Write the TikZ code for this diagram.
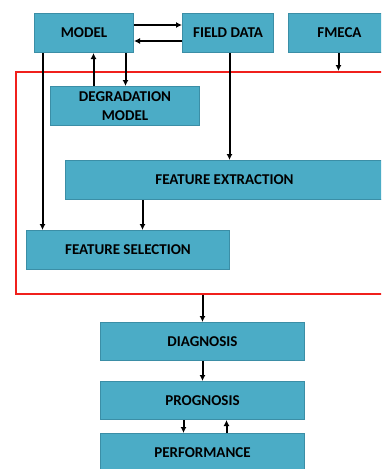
\documentclass[tikz,border=0pt]{standalone}
\usepackage{fontspec}
\setmainfont{Carlito}
\usetikzlibrary{arrows.meta}
\definecolor{boxfill}{HTML}{4BACC6}
\definecolor{boxline}{HTML}{3B8EA6}
\definecolor{framered}{HTML}{F0201C}

\begin{document}
\begin{tikzpicture}[x=1pt,y=-1pt,
            box/.style={draw=boxline,fill=boxfill,line width=1pt,
                font=\fontsize{15}{18.5}\selectfont\bfseries,align=center,
                inner sep=0pt,minimum height=39pt},
            flow/.style={-{Latex[length=6pt,width=6pt]},line width=2pt},
            ]
            \clip (0,0) rectangle (381,469);
            \fill[white] (0,0) rectangle (381,469);

            % outer frame
            \node[draw=framered,line width=1.8pt,minimum width=380pt,minimum height=222pt,
                inner sep=0pt,anchor=north west] (block) at (15,71) {};

            \node[box,minimum width=99pt,anchor=north west] (model) at (34,13) {MODEL};
            \node[box,minimum width=91pt,anchor=north west] (field) at (182,13) {FIELD DATA};
            \node[box,minimum width=102pt,anchor=north west] (fmeca) at (288,13) {FMECA};
            \node[box,minimum width=149pt,anchor=north west] (degr) at (50,86) {DEGRADATION\\MODEL};
            \node[box,minimum width=318pt,anchor=north west] (fext) at (65,160) {FEATURE EXTRACTION};
            \node[box,minimum width=203pt,anchor=north west] (fsel) at (26,230) {FEATURE SELECTION};
            \node[box,minimum width=204pt,minimum height=38pt,anchor=north west] (diag) at (100,322) {DIAGNOSIS};
            \node[box,minimum width=204pt,minimum height=38pt,anchor=north west] (prog) at (100,381) {PROGNOSIS};
            \node[box,minimum width=204pt,minimum height=38pt,anchor=north west] (perf) at (100,433) {PERFORMANCE};

            % model <-> field data
            \draw[flow] ([yshift=8pt]model.east) -- ([yshift=8pt]model.east -| field.west);
            \draw[flow] ([yshift=-8pt]field.west) -- ([yshift=-8pt]field.west -| model.east);
            % model <-> degradation
            \draw[flow] ([xshift=9.5pt]model.south |- degr.north) -- ([xshift=9.5pt]model.south);
            \draw[flow] ([xshift=41.5pt]model.south) -- ([xshift=41.5pt]model.south |- degr.north);
            \draw[flow] ([xshift=-41.5pt]model.south) -- ([xshift=-41.5pt]model.south |- fsel.north);
            % features
            \draw[flow] ([xshift=1.5pt]field.south) -- ([xshift=1.5pt]field.south |- fext.north);
            \draw[flow] ([xshift=-82pt]fext.south) -- ([xshift=-82pt]fext.south |- fsel.north);
            \draw[flow] ([xshift=-1pt]fmeca.south) -- ([xshift=-1pt]fmeca.south |- block.north);
            % lower chain
            \draw[flow] (block.south -| diag.south) -- (diag.north);
            \draw[flow] (diag.south) -- (prog.north);
            \draw[flow] ([xshift=-19pt]prog.south) -- ([xshift=-19pt]prog.south |- perf.north);
            \draw[flow] ([xshift=24pt]perf.north) -- ([xshift=24pt]perf.north |- prog.south);
\end{tikzpicture}
\end{document}
